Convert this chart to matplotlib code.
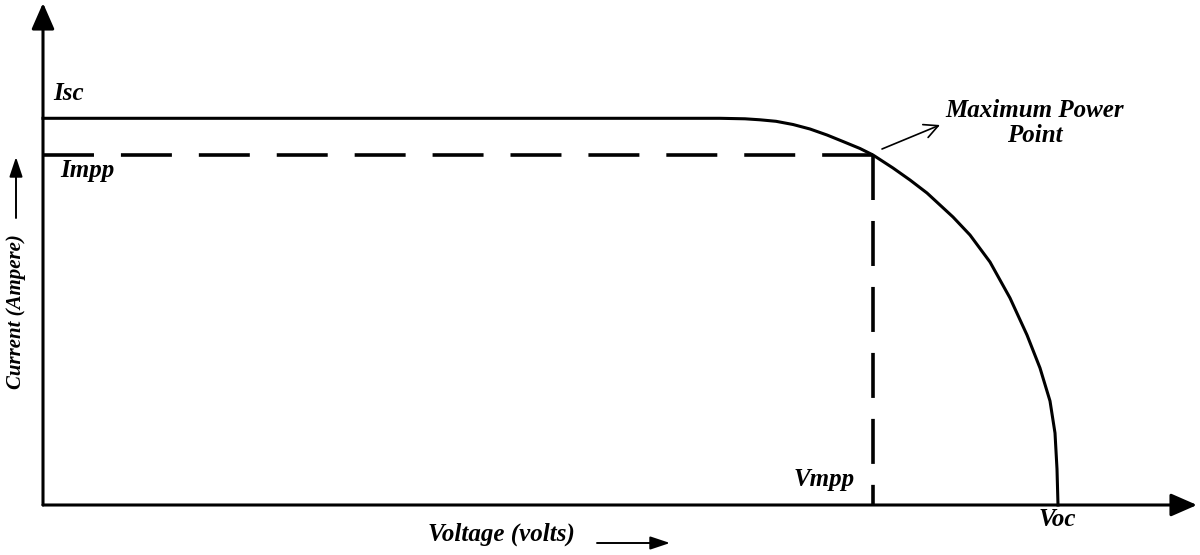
import matplotlib.pyplot as plt
import matplotlib

matplotlib.rcParams['lines.scale_dashes'] = False

# I-V curve of a PV cell (arbitrary units)
voltage = [0.0, 30.0, 60.0, 67.7, 70.2, 71.7, 73.3, 75.0, 76.7, 78.4, 80.0,
           81.7, 83.0, 85.0, 86.7, 88.4, 91.0, 92.7, 94.7, 96.7, 98.4, 99.7,
           100.7, 101.2, 101.4, 101.5]
current = [38.67, 38.67, 38.67, 38.67, 38.62, 38.52, 38.37, 38.05, 37.6, 37.0, 36.35,
           35.65, 35.0, 33.7, 32.5, 31.2, 28.8, 27.0, 24.3, 20.7, 17.0, 13.7,
           10.4, 7.2, 3.6, 0.0]

v_mpp = 83.0
i_mpp = 35.0

lbl_font = dict(family='Liberation Serif', style='italic', weight='bold', fontsize=18)

fig = plt.figure(figsize=(12, 5.55), dpi=100)
ax = fig.add_axes([0, 0, 1, 1])
ax.set_xlim(-4.3, 115.7)
ax.set_ylim(-5.0, 50.5)
ax.axis('off')

# axes with arrows
head = '-|>,head_length=0.8,head_width=0.35'
ax.annotate('', xy=(0, 50.2), xytext=(0, 0),
            arrowprops=dict(arrowstyle=head, mutation_scale=20, lw=2.2, color='black',
                            shrinkA=0, shrinkB=0))
ax.annotate('', xy=(115.4, 0), xytext=(0, 0),
            arrowprops=dict(arrowstyle=head, mutation_scale=20, lw=2.2, color='black',
                            shrinkA=0, shrinkB=0))

# the curve
ax.plot(voltage, current, color='black', lw=2.2, solid_joinstyle='round')

# dashed guides for the MPP
ax.plot([0, v_mpp], [i_mpp, i_mpp], color='black', lw=2.6, dashes=(36.7, 19.4),
        dash_capstyle='butt')
ax.plot([v_mpp, v_mpp], [i_mpp, 0], color='black', lw=2.6, dashes=(32.4, 15.1),
        dash_capstyle='butt')

# labels
ax.text(1.0, 40.5, 'Isc', ha='left', va='baseline', **lbl_font)
ax.text(1.7, 32.8, 'Impp', ha='left', va='baseline', **lbl_font)
ax.text(81.2, 1.9, 'Vmpp', ha='right', va='baseline', **lbl_font)
ax.text(101.4, -2.1, 'Voc', ha='center', va='baseline', **lbl_font)
ax.text(99.2, 38.2, 'Maximum Power\nPoint', ha='center', va='center',
        linespacing=1.08, **lbl_font)
ax.annotate('', xy=(89.7, 38.0), xytext=(83.9, 35.6),
            arrowprops=dict(arrowstyle='->,head_length=0.5,head_width=0.25',
                            mutation_scale=20, lw=1.2, color='black',
                            shrinkA=0, shrinkB=0))

# axis titles
ax.text(38.5, -3.6, 'Voltage (volts)', ha='left', va='baseline', **lbl_font)
ax.annotate('', xy=(62.7, -3.8), xytext=(55.4, -3.8),
            arrowprops=dict(arrowstyle='-|>,head_length=0.6,head_width=0.2',
                            mutation_scale=20, lw=1.4, color='black',
                            shrinkA=0, shrinkB=0))
ax.text(-2.7, 19.3, 'Current (Ampere)', ha='center', va='center', rotation=90,
        family='Liberation Serif', style='italic', weight='bold', fontsize=15)
ax.annotate('', xy=(-2.7, 34.8), xytext=(-2.7, 28.7),
            arrowprops=dict(arrowstyle='-|>,head_length=0.6,head_width=0.2',
                            mutation_scale=20, lw=1.4, color='black',
                            shrinkA=0, shrinkB=0))

fig.savefig('out.png', dpi=100)
